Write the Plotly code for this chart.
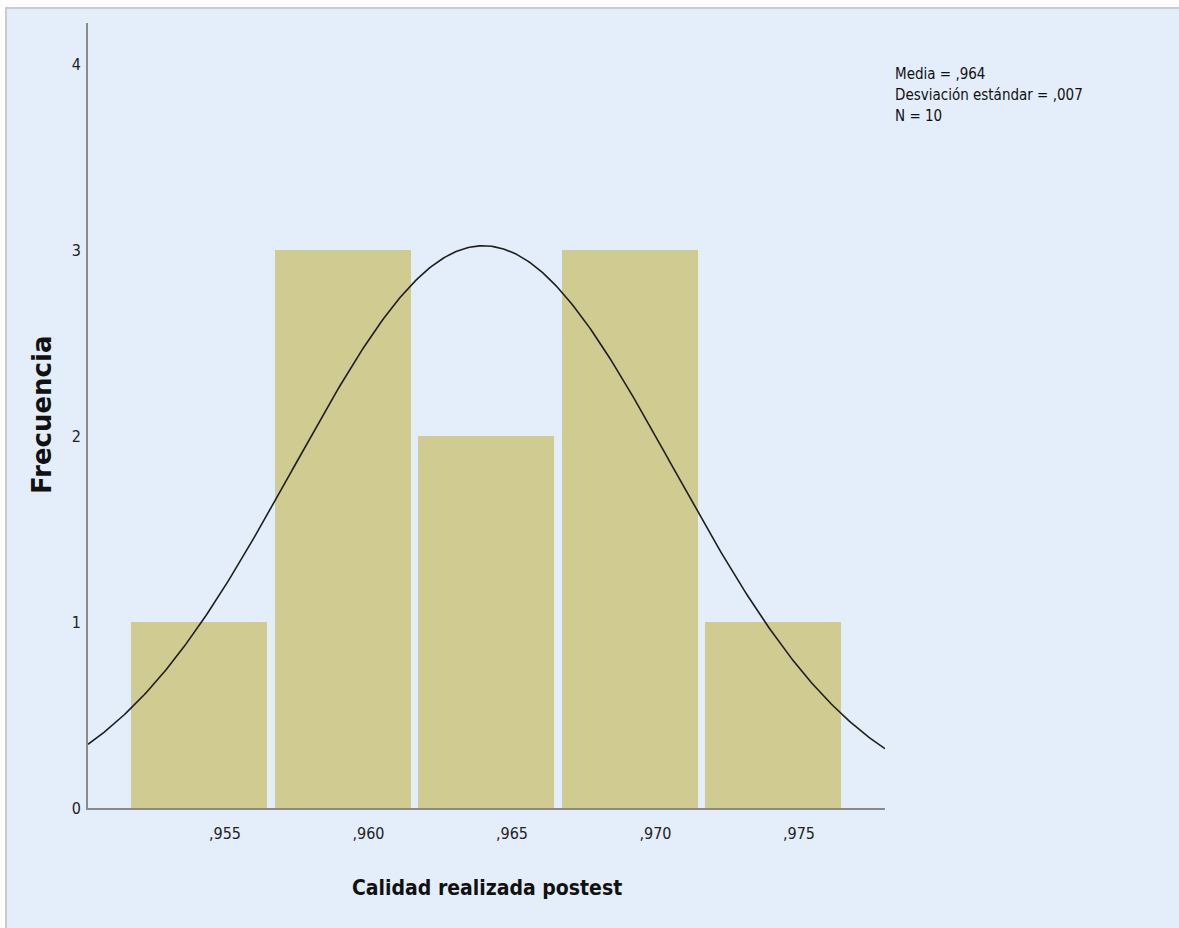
import numpy as np
import plotly.graph_objects as go

# Histogram of "Calidad realizada postest": bin centres and frequencies
bin_centers = [0.9541, 0.9591, 0.9641, 0.9691, 0.9741]
counts = [1, 3, 2, 3, 1]
bin_width = 0.005

# Summary statistics used for the fitted normal curve and the legend text
mean_val = 0.9640
sd_val = 0.0066
n_obs = 10

x_tick_vals = [0.955, 0.960, 0.965, 0.970, 0.975]
x_tick_text = [",955", ",960", ",965", ",970", ",975"]
y_tick_vals = [0, 1, 2, 3, 4]
y_tick_text = ["0", "1", "2", "3", "4"]

x_range = [0.9502265, 0.977997]
y_range = [0, 4.22]

BG = "#E3EEFA"
BAR = "#D0CB91"
AXIS = "#8A8A8A"
NARROW = "DejaVu Sans Condensed, Liberation Sans Narrow, sans-serif"

W, H = 1179, 928
ML, MR, MT, MB = 88, 294, 23, 120
pw, ph = W - ML - MR, H - MT - MB


def px_x(px):
    return (px - ML) / pw


def px_y(py):
    return (H - MB - py) / ph


# Normal curve scaled to the histogram counts
xs = np.linspace(x_range[0], x_range[1], 400)
ys = n_obs * bin_width * np.exp(-0.5 * ((xs - mean_val) / sd_val) ** 2) / (sd_val * np.sqrt(2 * np.pi))

fig = go.Figure()
fig.add_trace(go.Bar(
    x=bin_centers, y=counts, width=bin_width * 0.948,
    marker=dict(color=BAR, line=dict(width=0)),
    hoverinfo="x+y", showlegend=False,
))
fig.add_trace(go.Scatter(
    x=xs, y=ys, mode="lines",
    line=dict(color="#1E1E1E", width=1.6),
    hoverinfo="skip", showlegend=False,
))

fmt = lambda v: f"{v:.3f}".replace("0.", ",", 1)
stats_lines = [
    f"Media = {fmt(mean_val)}",
    f"Desviación estándar = {fmt(sd_val)}",
    f"N = {n_obs}",
]
stats_y = [74, 95, 116]

annotations = [
    dict(text="Calidad realizada postest", xref="paper", yref="paper",
         x=px_x(487), y=px_y(888), xanchor="center", yanchor="middle",
         showarrow=False,
         font=dict(family=NARROW, size=21, color="#111111", weight="bold")),
    dict(text="Frecuencia", xref="paper", yref="paper",
         x=px_x(42), y=px_y(415), xanchor="center", yanchor="middle",
         textangle=-90, showarrow=False,
         font=dict(family="DejaVu Sans, sans-serif", size=26, color="#111111", weight="bold")),
]
for line, yy in zip(stats_lines, stats_y):
    annotations.append(dict(
        text=line, xref="paper", yref="paper",
        x=px_x(893), y=px_y(yy), xanchor="left", yanchor="middle",
        align="left", showarrow=False,
        font=dict(family=NARROW, size=15, color="#111111"),
    ))

fig.update_layout(
    width=W, height=H,
    margin=dict(l=ML, r=MR, t=MT, b=MB),
    paper_bgcolor="white",
    plot_bgcolor="rgba(0,0,0,0)",
    bargap=0,
    xaxis=dict(
        range=x_range, tickvals=x_tick_vals, ticktext=x_tick_text,
        showgrid=False, zeroline=False, showline=True,
        linecolor=AXIS, linewidth=2, ticks="", ticklabelstandoff=10,
        tickfont=dict(family=NARROW, size=16, color="#222222"),
    ),
    yaxis=dict(
        range=y_range, tickvals=y_tick_vals, ticktext=y_tick_text,
        showgrid=False, zeroline=False, showline=True,
        linecolor=AXIS, linewidth=2, ticks="", ticklabelstandoff=2,
        tickfont=dict(family=NARROW, size=16, color="#222222"),
    ),
    shapes=[dict(
        type="rect", xref="paper", yref="paper", layer="below",
        x0=px_x(6), x1=px_x(W + 20), y0=px_y(H + 20), y1=px_y(8),
        fillcolor=BG, line=dict(color="#CBCBCB", width=2),
    )],
    annotations=annotations,
)

fig.write_html("out.html")
